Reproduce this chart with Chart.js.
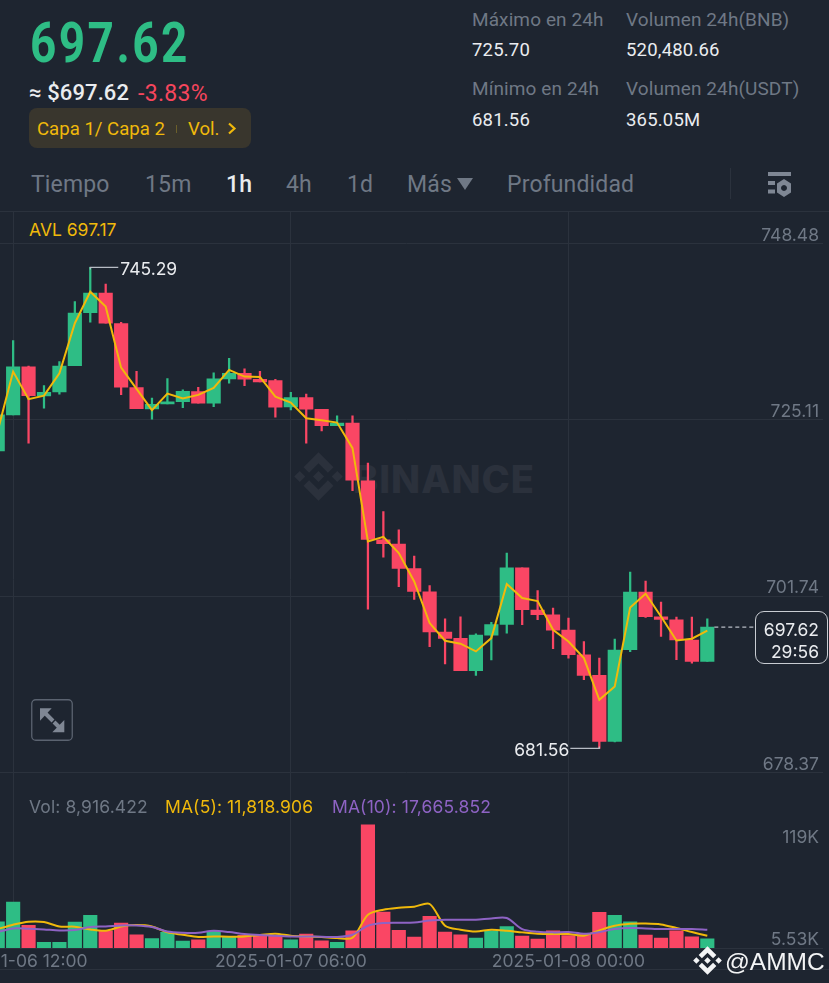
<!DOCTYPE html>
<html>
<head>
<meta charset="utf-8">
<title>BNB 1h</title>
<script src="https://cdn.jsdelivr.net/npm/chart.js@4"></script>
<style>
  html, body { margin: 0; padding: 0; background: #1e2530; overflow: hidden; width: 829px; height: 983px; }
  body { position: relative; font-family: Roboto, sans-serif; }
  .t { position: absolute; white-space: nowrap; line-height: 1; transform-origin: 0 50%; }
  .gray { color: #6f7885; font-size: 19px; letter-spacing: .1px; }
  .white { color: #eaecef; font-size: 18.5px; letter-spacing: .2px; }
  .tab { color: #6f7885; font-size: 23px; letter-spacing: .15px; top: 173px; }
  .leg { font: 17.5px Inter, sans-serif; top: 796px; letter-spacing: .12px; }
  .hr { position: absolute; left: 0; width: 829px; height: 1px; background: #2b323d; }
  canvas { position: absolute; left: -10px; top: 211px; }
</style>
</head>
<body>
  <!-- watermark sits under the canvas -->
  <svg style="position:absolute;left:294px;top:452px" width="49" height="49" viewBox="0 0 126 126" fill="#2b313c">
    <path d="M38.73 53.2L63 28.94l24.28 24.28 14.12-14.12L63 .7 24.61 39.09zM.61 63l14.12-14.12L28.85 63 14.73 77.12zM38.73 72.8L63 97.06l24.28-24.28 14.13 14.11L63 125.3 24.61 86.9zM97.15 63l14.12-14.12L125.39 63l-14.12 14.12zM77.32 63L63 48.68 48.68 63 63 77.32z"/>
  </svg>
  <div class="t" style="left:353px;top:456px;font:800 38px Inter,sans-serif;color:#2b313c;letter-spacing:1px">BINANCE</div>

  <div class="t" style="left:30px;top:15px;font-size:56px;font-weight:700;color:#2ebd85;letter-spacing:3px;transform:scaleX(.82)">697.62</div>
  <div class="t" style="left:29px;top:82px;font-size:22px;font-weight:500;color:#eaecef;letter-spacing:.1px">≈ $697.62</div>
  <div class="t" style="left:138px;top:82px;font-size:23px;color:#f6465d;letter-spacing:.3px">-3.83%</div>
  <div style="position:absolute;left:29px;top:108px;width:222px;height:40px;background:#39362d;border-radius:8px"></div>
  <div class="t" style="left:37px;top:120px;font-size:18.6px;color:#f0b90b">Capa 1/ Capa 2</div>
  <div style="position:absolute;left:176px;top:125px;width:1px;height:8px;background:#6b5f2b"></div>
  <div class="t" style="left:188px;top:120px;font-size:18.6px;color:#f0b90b">Vol.</div>
  <svg style="position:absolute;left:227px;top:122px" width="10" height="13" viewBox="0 0 10 13"><path d="M2 1.5L7.5 6.5 2 11.5" fill="none" stroke="#f0b90b" stroke-width="2.2"/></svg>

  <div class="t gray" style="left:472px;top:10px">Máximo en 24h</div>
  <div class="t white" style="left:472px;top:41px">725.70</div>
  <div class="t gray" style="left:626px;top:10px">Volumen 24h(BNB)</div>
  <div class="t white" style="left:626px;top:41px">520,480.66</div>
  <div class="t gray" style="left:472px;top:79px">Mínimo en 24h</div>
  <div class="t white" style="left:472px;top:111px">681.56</div>
  <div class="t gray" style="left:626px;top:79px">Volumen 24h(USDT)</div>
  <div class="t white" style="left:626px;top:111px">365.05M</div>

  <div class="t tab" style="left:31px">Tiempo</div>
  <div class="t tab" style="left:145px">15m</div>
  <div class="t tab" style="left:226px;color:#eaecef;font-weight:500">1h</div>
  <div class="t tab" style="left:286px">4h</div>
  <div class="t tab" style="left:347px">1d</div>
  <div class="t tab" style="left:407px">Más</div>
  <svg style="position:absolute;left:457px;top:178px" width="16" height="13"><path d="M0 0H16L8 12z" fill="#6f7885"/></svg>
  <div class="t tab" style="left:507px">Profundidad</div>
  <div style="position:absolute;left:730px;top:168px;width:1px;height:31px;background:#2b323d"></div>
  <svg style="position:absolute;left:766px;top:170px" width="28" height="28" viewBox="0 0 28 28" fill="#7f8794">
    <rect x="2" y="2" width="23" height="4"/><rect x="2" y="11" width="7" height="4"/><rect x="2" y="19.5" width="7" height="4"/>
    <path fill-rule="evenodd" d="M18 9l7 4.5v9L18 27l-7-4.5v-9zM18 15a3 3 0 1 0 .01 0z"/>
  </svg>

  <div class="hr" style="top:211px"></div>
  <div class="hr" style="top:969px"></div>
  <div class="t" style="left:29px;top:219px;font:17.5px Inter,sans-serif;color:#f0b90b">AVL 697.17</div>

  <canvas id="chart" width="833" height="758"></canvas>

  <svg style="position:absolute;left:31px;top:699px" width="42" height="42" viewBox="0 0 42 42" fill="#7f8794">
    <rect x=".75" y=".75" width="40.5" height="40.5" rx="4" fill="none" stroke="#5b6370" stroke-width="1.3"/>
    <path d="M9 9.3h11.7L9 21.7z"/><path d="M13 13l9 9" stroke="#7f8794" stroke-width="4"/>
    <path d="M33.3 33.3H21.3L33.3 21z"/><path d="M29 29l-6-6" stroke="#7f8794" stroke-width="4"/>
  </svg>

  <div class="t leg" style="left:29px;color:#6f7885">Vol: 8,916.422</div>
  <div class="t leg" style="left:165px;color:#f0b90b">MA(5): 11,818.906</div>
  <div class="t leg" style="left:332px;color:#8e63c4">MA(10): 17,665.852</div>

  <div style="position:absolute;left:755px;top:611px;width:71px;height:51px;border:1.5px solid #c8ccd2;border-radius:9px;background:#1e2530"></div>
  <div class="t" style="right:10px;top:619px;font:17.5px Inter,sans-serif;color:#eaecef">697.62</div>
  <div class="t" style="right:10px;top:641px;font:17.5px Inter,sans-serif;color:#eaecef">29:56</div>

  <svg style="position:absolute;left:693px;top:946px" width="29" height="29" viewBox="0 0 126 126" fill="#f3f4f5">
    <path d="M38.73 53.2L63 28.94l24.28 24.28 14.12-14.12L63 .7 24.61 39.09zM.61 63l14.12-14.12L28.85 63 14.73 77.12zM38.73 72.8L63 97.06l24.28-24.28 14.13 14.11L63 125.3 24.61 86.9zM97.15 63l14.12-14.12L125.39 63l-14.12 14.12zM77.32 63L63 48.68 48.68 63 63 77.32z"/>
  </svg>
  <div class="t" style="left:725px;top:948px;font:400 24.5px 'Liberation Sans',sans-serif;color:#f3f4f5">@AMMC</div>

<script>
// hourly candles (last entries of categories are the empty space on the right)
const categories = [
  '2025-01-06 11:00', '2025-01-06 12:00', '2025-01-06 13:00', '2025-01-06 14:00', '2025-01-06 15:00', '2025-01-06 16:00',
  '2025-01-06 17:00', '2025-01-06 18:00', '2025-01-06 19:00', '2025-01-06 20:00', '2025-01-06 21:00', '2025-01-06 22:00',
  '2025-01-06 23:00', '2025-01-07 00:00', '2025-01-07 01:00', '2025-01-07 02:00', '2025-01-07 03:00', '2025-01-07 04:00',
  '2025-01-07 05:00', '2025-01-07 06:00', '2025-01-07 07:00', '2025-01-07 08:00', '2025-01-07 09:00', '2025-01-07 10:00',
  '2025-01-07 11:00', '2025-01-07 12:00', '2025-01-07 13:00', '2025-01-07 14:00', '2025-01-07 15:00', '2025-01-07 16:00',
  '2025-01-07 17:00', '2025-01-07 18:00', '2025-01-07 19:00', '2025-01-07 20:00', '2025-01-07 21:00', '2025-01-07 22:00',
  '2025-01-07 23:00', '2025-01-08 00:00', '2025-01-08 01:00', '2025-01-08 02:00', '2025-01-08 03:00', '2025-01-08 04:00',
  '2025-01-08 05:00', '2025-01-08 06:00', '2025-01-08 07:00', '2025-01-08 08:00', '2025-01-08 09:00', '2025-01-08 10:00',
  '2025-01-08 11:00', '2025-01-08 12:00', '2025-01-08 13:00', '2025-01-08 14:00', '2025-01-08 15:00', '2025-01-08 16:00',
];
const timeTicks = ['2025-01-06 12:00', '2025-01-07 06:00', '2025-01-08 00:00'];
const priceTicks = [748.48, 725.11, 701.74, 678.37];
const volumeTicks = [119000, 5530];

const opens = [
  720.98, 725.75, 732.10, 728.26, 728.79, 732.27, 739.29, 741.90, 737.84, 729.36, 726.54, 727.20,
  727.51, 728.83, 727.30, 730.51, 731.27, 730.47, 730.29, 726.81, 728.04, 726.50, 724.33, 724.65,
  717.01, 709.20, 708.63, 705.40, 702.31, 696.98, 696.13, 691.85, 696.58, 697.98, 705.49, 699.89,
  699.27, 697.24, 693.97, 691.23, 682.49, 694.63, 702.27, 699.00, 698.61, 695.92, 693.08,
];
const highs = [
  725.75, 735.58, 732.23, 729.63, 732.80, 740.75, 745.29, 743.09, 738.02, 731.53, 727.96, 730.55,
  729.06, 729.41, 731.31, 733.25, 731.84, 731.53, 730.47, 728.75, 728.49, 726.50, 725.61, 725.61,
  719.35, 712.94, 710.52, 707.04, 703.15, 698.74, 699.00, 696.75, 698.25, 707.44, 705.49, 702.48,
  700.15, 698.83, 695.73, 693.53, 696.05, 704.92, 703.73, 700.95, 698.96, 698.96, 698.74,
];
const lows = [
  720.98, 725.75, 722.00, 726.63, 728.49, 732.27, 738.02, 737.89, 728.43, 726.58, 725.18, 727.20,
  726.71, 727.30, 726.85, 729.94, 729.63, 730.12, 725.44, 726.41, 722.00, 723.63, 724.33, 715.72,
  700.02, 706.91, 702.98, 701.29, 695.03, 692.74, 691.85, 691.23, 693.27, 696.84, 697.94, 698.61,
  694.77, 693.53, 690.66, 681.56, 682.41, 694.37, 698.91, 696.39, 693.31, 692.87, 693.08,
];
const closes = [
  725.75, 732.10, 728.30, 728.75, 732.23, 739.25, 741.90, 737.89, 729.41, 726.58, 727.16, 727.47,
  728.88, 727.30, 730.51, 731.27, 730.47, 730.12, 726.77, 728.04, 726.50, 724.33, 724.65, 717.10,
  709.24, 708.67, 705.40, 702.35, 696.98, 696.13, 691.85, 696.58, 697.98, 705.49, 699.93, 699.27,
  697.24, 693.97, 691.23, 682.49, 694.59, 702.27, 699.00, 698.64, 695.92, 693.08, 697.62,
];
const avl = [
  723.63, 731.48, 727.83, 728.30, 731.27, 737.89, 742.07, 740.09, 732.01, 729.19, 726.37, 728.57,
  727.91, 728.40, 729.32, 731.71, 730.82, 730.78, 728.17, 727.38, 725.31, 725.05, 724.73, 721.34,
  708.97, 709.59, 707.44, 703.68, 698.17, 695.83, 695.43, 694.41, 696.18, 703.33, 701.48, 701.08,
  697.28, 695.73, 693.53, 688.01, 689.77, 700.23, 702.05, 699.04, 695.86, 696.09, 697.17,
];
const volumes = [
  25400, 44400, 21800, 5400, 5530, 25100, 31500, 16700, 24100, 12800, 9000, 15100,
  6800, 8000, 16000, 11200, 12200, 11200, 11200, 8000, 13500, 7000, 5530, 16700,
  119000, 34700, 17000, 10600, 30500, 15400, 12800, 9700, 16700, 20600, 11600, 8700,
  16700, 11900, 13500, 34400, 31500, 25400, 12500, 9700, 16700, 10900, 8916,
];
const ma5 = [
  18300, 22500, 25400, 25100, 20800, 20600, 17900, 16700, 20800, 22200, 20800, 15100,
  12800, 10600, 11200, 10900, 11200, 12500, 13800, 11900, 11200, 10600, 9700, 9900,
  32100, 37000, 38900, 39900, 42500, 21500, 17700, 16000, 17700, 16700, 15100, 13800,
  13500, 13500, 11900, 17000, 21500, 23400, 23700, 22800, 19300, 15400, 11819,
];
const ma10 = [
  15400, 18900, 18600, 17900, 17000, 17400, 20300, 20800, 21800, 21800, 20300, 16000,
  14800, 14800, 16700, 15400, 13500, 12500, 11900, 11200, 11200, 10900, 10600, 12800,
  21500, 24100, 24400, 24700, 26600, 27300, 27300, 27300, 28600, 29000, 18300, 15700,
  15100, 15400, 13800, 15400, 18300, 19300, 18900, 18300, 18300, 18300, 17666,
];

const GREEN = '#2ebd85';
const RED = '#fa4664';
const YELLOW = '#f0b90b';
const PURPLE = '#8e63c4';
const GRID = '#2b323d';
const TICK = '#6f7885';
const tickFont = { family: 'Inter, sans-serif', size: 17.5 };

const candleColors = closes.map((c, i) => (c >= opens[i] ? GREEN : RED));
const lastIndex = closes.length - 1;

// high / low callouts, the dashed last price line and the volume tick labels
const annotations = {
  id: 'annotations',
  afterDraw(chart) {
    const { ctx, scales } = chart;
    const hiX = scales.x.getPixelForValue(highs.indexOf(Math.max(...highs)));
    const hiY = scales.y.getPixelForValue(Math.max(...highs));
    const loX = scales.x.getPixelForValue(lows.indexOf(Math.min(...lows)));
    const loY = scales.y.getPixelForValue(Math.min(...lows));
    ctx.save();
    ctx.strokeStyle = '#b7bcc4';
    ctx.lineWidth = 1.2;
    ctx.beginPath();
    ctx.moveTo(hiX, hiY + 2); ctx.lineTo(hiX, hiY); ctx.lineTo(hiX + 28, hiY);
    ctx.moveTo(loX, loY - 2); ctx.lineTo(loX, loY); ctx.lineTo(loX - 29, loY);
    ctx.stroke();
    ctx.font = tickFont.size + 'px ' + tickFont.family;
    ctx.fillStyle = '#eaecef';
    ctx.textBaseline = 'middle';
    ctx.textAlign = 'left';
    ctx.fillText(Math.max(...highs).toFixed(2), hiX + 30, hiY + 2);
    ctx.textAlign = 'right';
    ctx.fillText(Math.min(...lows).toFixed(2), loX - 30, loY + 2);

    const lastX = scales.x.getPixelForValue(lastIndex) + 7;
    const lastY = scales.y.getPixelForValue(closes[lastIndex]);
    ctx.setLineDash([4, 3]);
    ctx.beginPath();
    ctx.moveTo(lastX, lastY); ctx.lineTo(765, lastY);
    ctx.stroke();
    ctx.setLineDash([]);

    ctx.fillStyle = TICK;
    ctx.textBaseline = 'top';
    ctx.fillText('119K', 829, scales.v.getPixelForValue(volumeTicks[0]) + 4);
    ctx.textBaseline = 'bottom';
    ctx.fillText('5.53K', 829, scales.v.getPixelForValue(volumeTicks[1]) + 6);
    ctx.restore();
  },
};

new Chart(document.getElementById('chart'), {
  data: {
    labels: categories,
    datasets: [
      {
        type: 'bar', yAxisID: 'y', order: 5, grouped: false, barThickness: 1.6,
        data: highs.map((h, i) => [lows[i], h]), backgroundColor: candleColors,
      },
      {
        type: 'bar', yAxisID: 'y', order: 4, grouped: false, barThickness: 13.5,
        data: opens.map((o, i) => [o, closes[i]]), backgroundColor: candleColors,
      },
      {
        type: 'line', yAxisID: 'y', order: 1, data: avl,
        borderColor: YELLOW, borderWidth: 2, pointRadius: 0, tension: 0,
      },
      {
        type: 'bar', yAxisID: 'v', order: 4, grouped: false, barThickness: 13.5,
        data: volumes, backgroundColor: candleColors,
      },
      {
        type: 'line', yAxisID: 'v', order: 2, data: ma5,
        borderColor: YELLOW, borderWidth: 2, pointRadius: 0, tension: 0.3,
      },
      {
        type: 'line', yAxisID: 'v', order: 1, data: ma10,
        borderColor: PURPLE, borderWidth: 2, pointRadius: 0, tension: 0.3,
      },
    ],
  },
  options: {
    responsive: false,
    animation: false,
    layout: { padding: 0 },
    plugins: { legend: { display: false }, tooltip: { enabled: false } },
    scales: {
      x: {
        type: 'category',
        offset: true,
        afterFit: (s) => { s.height = 21; s.paddingLeft = 0; s.paddingRight = 0; },
        border: { color: GRID },
        grid: {
          offset: false,
          drawTicks: false,
          color: (c) => (c.tick && timeTicks.includes(categories[c.tick.value]) ? GRID : 'transparent'),
        },
        ticks: {
          autoSkip: false, maxRotation: 0, padding: 3, color: TICK, font: tickFont,
          callback: (v) => (timeTicks.includes(categories[v]) ? categories[v] : ''),
        },
      },
      y: {
        position: 'right', stack: 'panes', stackWeight: 561.5, min: 678.37, max: 752.76,
        afterBuildTicks: (s) => { s.ticks = priceTicks.map((value) => ({ value })); },
        afterFit: (s) => { s.width = 0; s.paddingTop = 0; s.paddingBottom = 0; },
        border: { display: false },
        grid: { color: GRID, drawTicks: false },
        ticks: {
          mirror: true, padding: -4, labelOffset: -8, color: TICK, font: tickFont,
          callback: (v) => v.toFixed(2),
        },
      },
      v: {
        position: 'right', stack: 'panes', stackWeight: 175.5, min: 0, max: 169600,
        afterFit: (s) => { s.width = 0; s.paddingTop = 0; s.paddingBottom = 0; },
        border: { display: false },
        grid: { display: false },
        ticks: { display: false },
      },
    },
  },
  plugins: [annotations],
});
</script>
</body>
</html>
